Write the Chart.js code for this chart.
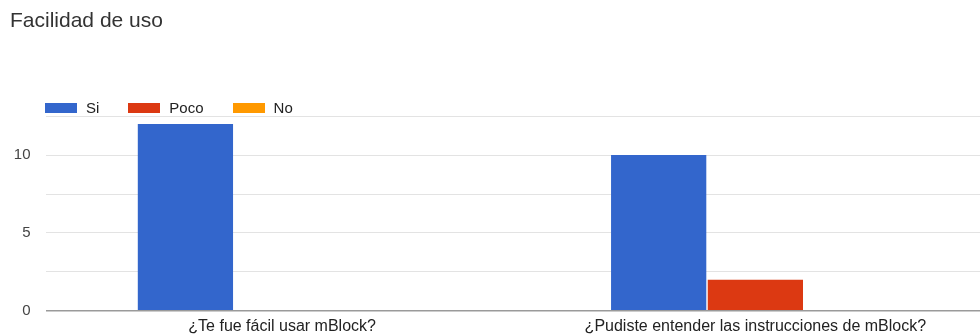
<!DOCTYPE html>
<html>
<head>
<meta charset="utf-8">
<script src="https://cdn.jsdelivr.net/npm/chart.js@4"></script>
<style>
    html, body { margin: 0; padding: 0; overflow: hidden; background: #fff; }
    #wrap { position: relative; width: 992px; height: 335px; }
    #legend {
        position: absolute; left: 45px; top: 99px;
        font-family: "Liberation Sans", Arial, sans-serif; font-size: 15px; color: #222;
        display: flex; align-items: center;
    }
    #legend .item { display: flex; align-items: center; margin-right: 29px; }
    #legend .box { width: 32px; height: 10px; margin-right: 9px; }
</style>
</head>
<body>
<div id="wrap">
    <canvas id="myChart" width="992" height="335"></canvas>
    <div id="legend"></div>
</div>
<script>
const categories = ['¿Te fue fácil usar mBlock?', '¿Pudiste entender las instrucciones de mBlock?'];
const seriesNames = ['Si', 'Poco', 'No'];
const siValues = [12, 10];
const pocoValues = [0, 2];
const noValues = [0, 0];
const yTicks = [0, 5, 10];
const colors = ['#3366cc', '#dc3912', '#ff9900'];

const font = "'Liberation Sans', Arial, sans-serif";

function renderChart() {
    const ctx = document.getElementById('myChart').getContext('2d');
    const chart = new Chart(ctx, {
        type: 'bar',
        data: {
            labels: categories,
            datasets: [siValues, pocoValues, noValues].map((vals, i) => ({
                label: seriesNames[i],
                data: vals,
                backgroundColor: colors[i],
                borderWidth: 0,
                categoryPercentage: 0.613,
                barPercentage: 0.985
            }))
        },
        options: {
            responsive: false,
            animation: false,
            layout: { padding: { left: 10, right: 0, top: 0, bottom: -7 } },
            plugins: {
                legend: { display: false },
                tooltip: { enabled: false },
                title: {
                    display: true,
                    text: 'Facilidad de uso',
                    align: 'start',
                    color: '#333',
                    font: { family: font, size: 21, weight: 'normal' },
                    padding: { top: 9, bottom: 82 }
                }
            },
            scales: {
                x: {
                    grid: { display: false, drawTicks: false },
                    border: { display: false },
                    ticks: {
                        color: '#222',
                        font: { family: font, size: 16 },
                        padding: 6,
                        maxRotation: 0,
                        autoSkip: false
                    }
                },
                y: {
                    min: 0,
                    max: 12.5,
                    border: { display: false },
                    grid: {
                        drawTicks: false,
                        color: c => c.tick.value === 0 ? '#9a9a9a' : '#e3e3e3',
                        lineWidth: c => c.tick.value === 0 ? 1.5 : 1
                    },
                    ticks: {
                        stepSize: 2.5,
                        color: '#444',
                        font: { family: font, size: 15 },
                        padding: 15,
                        callback: v => yTicks.includes(v) ? String(v) : ''
                    },
                    afterFit: scale => { scale.width = 35.5; }
                }
            }
        }
    });

    // legend as html, built from the datasets
    const legendEl = document.getElementById('legend');
    chart.data.datasets.forEach(ds => {
        const item = document.createElement('div');
        item.className = 'item';
        const box = document.createElement('span');
        box.className = 'box';
        box.style.background = ds.backgroundColor;
        const txt = document.createElement('span');
        txt.textContent = ds.label;
        item.appendChild(box);
        item.appendChild(txt);
        legendEl.appendChild(item);
    });
}

renderChart();
</script>
</body>
</html>
